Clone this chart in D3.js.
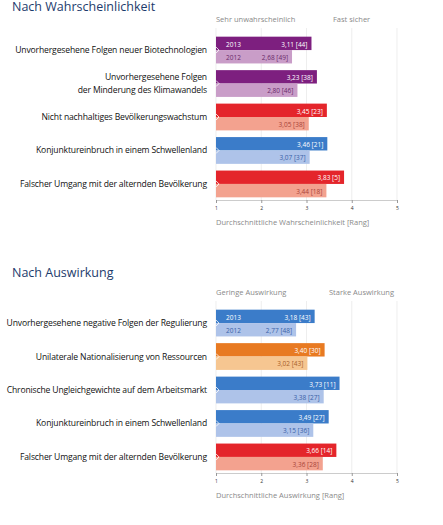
<!DOCTYPE html>
<html><head><meta charset="utf-8">
<script src="https://cdn.jsdelivr.net/npm/d3@7"></script>
<style>body{margin:0;background:#fff}text{font-family:"Open Sans",sans-serif}</style>
</head><body>
<svg id="c" width="443" height="525"></svg>
<script>
// data
const catsA = [["Unvorhergesehene Folgen neuer Biotechnologien"], ["Unvorhergesehene Folgen", "der Minderung des Klimawandels"], ["Nicht nachhaltiges Bevölkerungswachstum"], ["Konjunktureinbruch in einem Schwellenland"], ["Falscher Umgang mit der alternden Bevölkerung"]];
const v2013A = [3.11, 3.23, 3.45, 3.46, 3.83];
const r2013A = [44, 38, 23, 21, 5];
const v2012A = [2.68, 2.80, 3.05, 3.07, 3.44];
const r2012A = [49, 46, 38, 37, 18];
const colA = ["purple", "purple", "red", "blue", "red"];

const catsB = [["Unvorhergesehene negative Folgen der Regulierung"], ["Unilaterale Nationalisierung von Ressourcen"], ["Chronische Ungleichgewichte auf dem Arbeitsmarkt"], ["Konjunktureinbruch in einem Schwellenland"], ["Falscher Umgang mit der alternden Bevölkerung"]];
const v2013B = [3.18, 3.40, 3.73, 3.49, 3.66];
const r2013B = [43, 30, 11, 27, 14];
const v2012B = [2.77, 3.02, 3.38, 3.15, 3.36];
const r2012B = [48, 43, 27, 36, 28];
const colB = ["blue", "orange", "blue", "blue", "red"];

const ticks = [1, 2, 3, 4, 5];
const palette = {
  purple: ["#7d1f7f", "#c99dc8", "#6a2a6a"],
  red: ["#e4252b", "#f3a28f", "#a8443a"],
  blue: ["#3b7cc9", "#aec3e9", "#3a62a8"],
  orange: ["#e87a22", "#f6c691", "#a8602a"]
};
const fmt = v => v.toFixed(2).replace(".", ",");

const svg = d3.select("#c");
const x = d3.scaleLinear().domain([1, 5]).range([216, 397]);

function panel(top, titleY, title, hdrL, hdrR, axisTitle, cats, v13, r13, v12, r12, cols) {
  const g = svg.append("g").attr("transform", `translate(0,${top})`);
  g.append("text").attr("x", 12).attr("y", titleY).attr("font-size", 12.5).attr("fill", "#1d3b6c").text(title);
  g.append("text").attr("x", 216).attr("y", 22).attr("font-size", 7.5).attr("fill", "#8a8a8a").text(hdrL);
  g.append("text").attr("x", hdrR[1]).attr("y", 22).attr("font-size", 7.5).attr("fill", "#8a8a8a").text(hdrR[0]);

  const y = d3.scaleBand().domain(d3.range(cats.length)).range([36, 198]).paddingInner(0.2).paddingOuter(0.02);
  const bh = y.bandwidth() / 2;

  // grid
  g.selectAll(".grid").data(ticks).enter().append("line")
    .attr("x1", d => x(d)).attr("x2", d => x(d)).attr("y1", 28).attr("y2", 200)
    .attr("stroke", "#e6e6e6").attr("stroke-width", 0.7);
  const ax = g.append("g").attr("transform", "translate(0,200)")
    .call(d3.axisBottom(x).tickValues(ticks).tickSize(3).tickFormat(d3.format("d")));
  ax.select(".domain").attr("stroke", "#ccc");
  ax.selectAll(".tick line").attr("stroke", "#999");
  ax.selectAll("text").attr("font-size", 5).attr("fill", "#333");
  g.append("text").attr("x", 216).attr("y", 225).attr("font-size", 7.5).attr("fill", "#8a8a8a").text(axisTitle);

  cats.forEach((c, i) => {
    const y0 = y(i), p = palette[cols[i]];
    g.append("rect").attr("x", x(1)).attr("y", y0).attr("width", x(v13[i]) - x(1)).attr("height", bh).attr("fill", p[0]);
    g.append("rect").attr("x", x(1)).attr("y", y0 + bh).attr("width", x(v12[i]) - x(1)).attr("height", bh).attr("fill", p[1]);
    g.append("path").attr("d", `M${x(1)},${y0 + bh - 3}L${x(1) + 3},${y0 + bh}L${x(1)},${y0 + bh + 3}`)
      .attr("fill", "none").attr("stroke", "#fff").attr("stroke-width", 0.8);
    g.append("text").attr("x", x(v13[i]) - 4).attr("y", y0 + bh - 3.5).attr("text-anchor", "end")
      .attr("font-size", 6.5).attr("fill", "#fff").text(`${fmt(v13[i])} [${r13[i]}]`);
    g.append("text").attr("x", x(v12[i]) - 4).attr("y", y0 + 2 * bh - 3.5).attr("text-anchor", "end")
      .attr("font-size", 6.5).attr("fill", p[2]).text(`${fmt(v12[i])} [${r12[i]}]`);
    if (i === 0) {
      g.append("text").attr("x", x(1) + 10).attr("y", y0 + bh - 3.5).attr("font-size", 6.5).attr("fill", "#fff").text("2013");
      g.append("text").attr("x", x(1) + 10).attr("y", y0 + 2 * bh - 3.5).attr("font-size", 6.5).attr("fill", p[2]).text("2012");
    }
    const mid = y0 + bh;
    c.forEach((line, k) => {
      g.append("text").attr("x", 207).attr("y", mid + 3 + (k - (c.length - 1) / 2) * 13)
        .attr("text-anchor", "end").attr("font-size", 8.6).attr("letter-spacing", -0.15).attr("fill", "#111").text(line);
    });
  });
}

panel(0, 11, "Nach Wahrscheinlichkeit", "Sehr unwahrscheinlich", ["Fast sicher", 333],
  "Durchschnittliche Wahrscheinlichkeit [Rang]", catsA, v2013A, r2013A, v2012A, r2012A, colA);
panel(273, 4, "Nach Auswirkung", "Geringe Auswirkung", ["Starke Auswirkung", 329],
  "Durchschnittliche Auswirkung [Rang]", catsB, v2013B, r2013B, v2012B, r2012B, colB);
</script>
</body></html>
